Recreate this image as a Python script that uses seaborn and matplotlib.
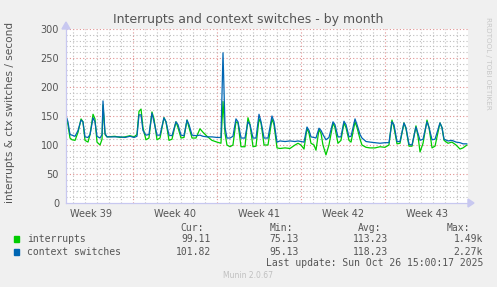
import matplotlib
matplotlib.use("Agg")
import matplotlib.pyplot as plt
import seaborn as sns
import pandas as pd

# time in days since Monday 2025-09-22 00:00 (start of Week 39)
days = [1.42, 1.58, 1.75, 1.92, 2.17, 2.42, 2.67, 2.83, 3.0, 3.25, 3.42, 3.67, 3.83, 4.0,
        4.25, 4.42, 4.5, 4.67, 4.83, 5.5, 5.92, 6.33, 6.75, 7.08, 7.33, 7.5, 7.67, 7.83,
        8.08, 8.33, 8.58, 8.75, 9.0, 9.25, 9.58, 9.75, 10.0, 10.25, 10.58, 10.75, 11.0,
        11.25, 11.5, 11.67, 11.92, 12.25, 12.58, 12.83, 13.17, 13.58, 14.0, 14.33, 14.5,
        14.67, 14.83, 15.08, 15.33, 15.58, 15.75, 16.0, 16.33, 16.58, 16.75, 17.0, 17.25,
        17.5, 17.67, 17.92, 18.25, 18.58, 18.75, 19.0, 19.25, 19.67, 20.08, 20.5, 20.75,
        21.0, 21.25, 21.5, 21.67, 21.83, 22.08, 22.25, 22.5, 22.67, 22.83, 23.08, 23.33,
        23.67, 23.83, 24.08, 24.33, 24.58, 24.75, 25.0, 25.17, 25.5, 25.67, 25.92, 26.08,
        26.42, 26.75, 27.17, 27.58, 28.0, 28.33, 28.58, 28.75, 29.0, 29.25, 29.58, 29.75,
        30.0, 30.25, 30.58, 30.75, 30.92, 31.17, 31.5, 31.67, 31.92, 32.17, 32.58, 32.75,
        32.92, 33.25, 33.58, 33.92, 34.25, 34.5, 34.83]

ctx = [150, 140, 118, 117, 115, 125, 143, 140, 114, 113, 118, 147, 140, 115,
       112, 118, 176, 120, 114, 114, 114, 113, 115, 113, 115, 152, 152, 125,
       117, 118, 155, 140, 117, 117, 147, 140, 117, 116, 140, 135, 117,
       116, 143, 135, 117, 116, 117, 115, 114, 114, 113, 113, 259,
       130, 112, 112, 115, 145, 140, 112, 112, 140, 135, 112, 112,
       153, 140, 112, 112, 150, 140, 105, 107, 106, 107, 106, 107,
       106, 105, 131, 125, 114, 113, 112, 129, 125, 118, 109, 113,
       140, 135, 114, 114, 141, 135, 114, 115, 145, 135, 118, 112,
       106, 105, 104, 103, 104, 104, 140, 135, 106, 106, 138, 130,
       101, 100, 131, 120, 108, 110, 140, 130, 109, 110, 138, 130,
       110, 107, 108, 105, 104, 102, 102]

intr = [150, 135, 112, 109, 108, 122, 145, 140, 108, 105, 118, 153, 145, 105,
        100, 110, 169, 118, 114, 115, 113, 114, 116, 114, 118, 158, 162, 130,
        109, 112, 157, 145, 109, 112, 147, 140, 108, 110, 140, 130, 112,
        113, 143, 130, 112, 112, 128, 122, 115, 108, 105, 103, 175,
        120, 100, 97, 100, 140, 138, 97, 97, 147, 135, 97, 98,
        145, 138, 100, 100, 145, 135, 95, 94, 95, 94, 100, 103,
        100, 93, 129, 120, 103, 100, 91, 127, 120, 100, 83, 100,
        138, 130, 103, 108, 138, 130, 108, 105, 140, 130, 110, 100,
        96, 95, 95, 97, 96, 100, 143, 130, 102, 103, 138, 128,
        98, 98, 133, 115, 88, 103, 143, 130, 95, 98, 138, 130,
        108, 103, 105, 100, 93, 95, 100]

series = ["interrupts", "context switches"]
colors = ["#00CC00", "#0066B3"]
week_labels = ["Week 39", "Week 40", "Week 41", "Week 42", "Week 43"]
stat_headers = ["Cur:", "Min:", "Avg:", "Max:"]
stats = [["99.11", "75.13", "113.23", "1.49k"],
         ["101.82", "95.13", "118.23", "2.27k"]]

df = pd.concat([
    pd.DataFrame({"day": days, "value": intr, "series": series[0]}),
    pd.DataFrame({"day": days, "value": ctx, "series": series[1]}),
])

sns.set_style("white")
plt.rcParams["font.family"] = ["DejaVu Sans"]

W, H = 497, 287
fig = plt.figure(figsize=(W / 100, H / 100), dpi=100, facecolor="#F0F0F0")
L, R, T, B = 66, 468, 29, 203
ax = fig.add_axes([L / W, 1 - B / H, (R - L) / W, (B - T) / H])
ax.set_facecolor("white")

sns.lineplot(data=df, x="day", y="value", hue="series", hue_order=series,
             palette=colors, linewidth=0.9, ax=ax, legend=False, sort=False)

x0, x1 = (L - 49) / 12, (R - 49) / 12
ax.set_xlim(x0, x1)
ax.set_ylim(0, 300)

# grid
for d in range(2, 35):
    if d % 7 == 0:
        ax.axvline(d, color="#E09090", lw=0.8, ls=(0, (1, 2)), zorder=0)
    else:
        ax.axvline(d, color="#BEBEBE", lw=0.8, ls=(0, (1, 2)), zorder=0)
for v in range(10, 301, 10):
    if v % 50 == 0:
        ax.axhline(v, color="#E09090", lw=0.8, ls=(0, (1, 2)), zorder=0)
    else:
        ax.axhline(v, color="#BEBEBE", lw=0.8, ls=(0, (1, 2)), zorder=0)

ax.set_yticks(range(0, 301, 50))
ax.set_xticks([3.5 + 7 * i for i in range(5)])
ax.set_xticklabels(week_labels)
ax.tick_params(axis="both", length=0, labelsize=7, colors="#555555")
ax.tick_params(axis="y", pad=5)
ax.tick_params(axis="x", pad=4)
ax.set_xlabel("")
ax.set_ylabel("")
for s in ["top", "right"]:
    ax.spines[s].set_visible(False)
for s in ["left", "bottom"]:
    ax.spines[s].set_color("#C8C8F0")
    ax.spines[s].set_linewidth(0.9)

# axis arrows
fig.patches.append(plt.Polygon([[(R + 0) / W, 1 - (B - 4) / H], [(R + 0) / W, 1 - (B + 4) / H],
                                [(R + 6) / W, 1 - B / H]], closed=True,
                               transform=fig.transFigure, color="#C8C8F0"))
fig.patches.append(plt.Polygon([[(L - 4) / W, 1 - (T) / H], [(L + 4) / W, 1 - (T) / H],
                                [L / W, 1 - (T - 7) / H]], closed=True,
                               transform=fig.transFigure, color="#C8C8F0"))

def fx(x):
    return x / W

def fy(y):
    return 1 - y / H

fig.text(0.5, fy(19), "Interrupts and context switches - by month", ha="center", va="center",
         fontsize=9, color="#555555")
fig.text(fx(10), fy(112), "interrupts & ctx switches / second", rotation=90,
         ha="center", va="center", fontsize=7.6, color="#555555")
fig.text(fx(488), fy(63), "RRDTOOL / TOBI OETIKER", rotation=270, ha="center", va="center",
         fontsize=5.2, color="#C8C8C8")

mono = "DejaVu Sans Mono"
hdr_x = [204, 293, 381, 470]
val_x = [211, 299, 388, 483]
for h, x in zip(stat_headers, hdr_x):
    fig.text(fx(x), fy(228), h, ha="right", va="center", family=mono, fontsize=7, color="#555555")
rows_y = [239, 252]
for name, col, row, y in zip(series, colors, stats, rows_y):
    fig.patches.append(plt.Rectangle((fx(14), fy(y + 3)), 5 / W, 6 / H, transform=fig.transFigure,
                                     color=col))
    fig.text(fx(27), fy(y), name, ha="left", va="center", family=mono, fontsize=7, color="#555555")
    for v, x in zip(row, val_x):
        fig.text(fx(x), fy(y), v, ha="right", va="center", family=mono, fontsize=7, color="#555555")
fig.text(fx(483), fy(263), "Last update: Sun Oct 26 15:00:17 2025", ha="right", va="center",
         family=mono, fontsize=7, color="#555555")
fig.text(fx(248), fy(276), "Munin 2.0.67", ha="center", va="center", fontsize=5.5, color="#C0C0C0")

fig.savefig("out.png", dpi=100, facecolor=fig.get_facecolor())
